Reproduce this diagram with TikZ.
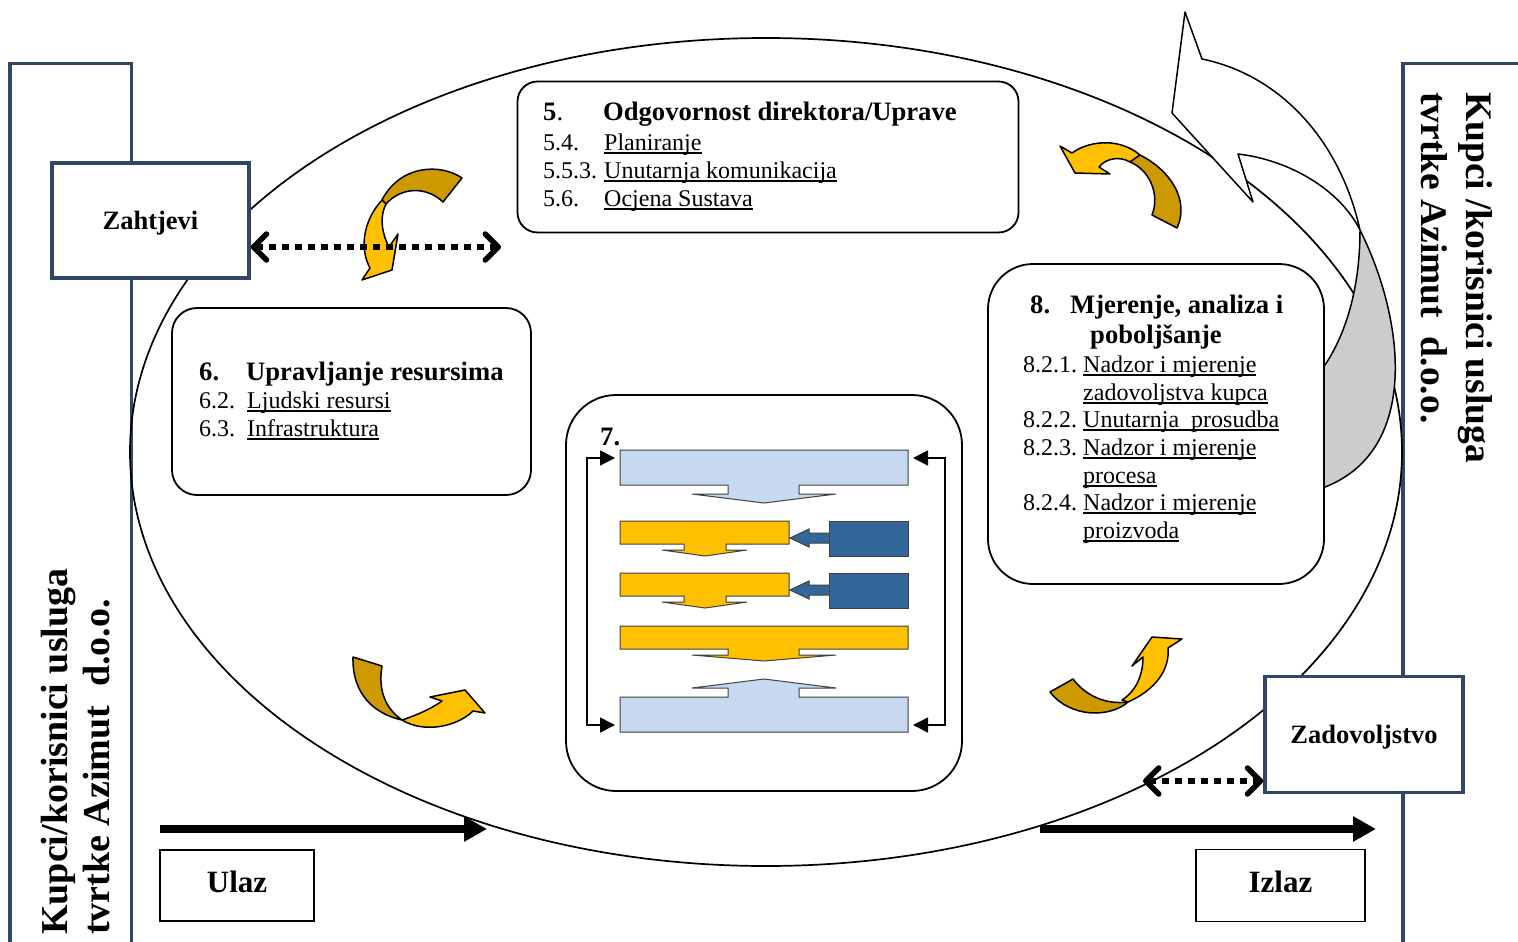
\documentclass[tikz,border=0pt]{standalone}
\usepackage{fontspec}
\setmainfont{Liberation Serif}
\usetikzlibrary{arrows.meta,positioning}
\definecolor{navy}{RGB}{47,70,102}
\definecolor{paleblue}{RGB}{198,217,241}
\definecolor{amber}{RGB}{255,192,0}
\definecolor{steel}{RGB}{52,102,153}
\definecolor{ochre}{RGB}{204,153,0}
\definecolor{backgray}{RGB}{204,204,204}
\newcommand{\undl}[1]{\sbox0{#1}\rlap{\rule[-3.5pt]{\wd0}{1.3pt}}\usebox0}
\tikzset{
  strip/.style={draw=navy, line width=3.5pt},
  sidebox/.style={draw=navy, line width=3.5pt, fill=white, text depth=0pt, font=\fontsize{26.5}{30}\selectfont\bfseries},
  iobox/.style={draw, line width=1.6pt, fill=white, text height=21pt, text depth=8pt, font=\fontsize{31}{36}\selectfont\bfseries},
  procbox/.style={draw, line width=1.8pt, fill=white},
  txt/.style={anchor=base west, inner sep=0pt, font=\fontsize{24}{28}\selectfont},
  ttl/.style={txt, font=\fontsize{26.6}{30}\selectfont\bfseries},
  bandback/.style={draw, line width=1.5pt, line join=round, fill=ochre},
  bandfront/.style={draw, line width=1.5pt, line join=round, fill=amber},
  stage/.style={draw=black!75, line width=1pt},
  dotlink/.style={line width=5.5pt, dash pattern=on 7pt off 6pt,
    {Straight Barb[length=13pt,width=26pt,round]}-{Straight Barb[length=13pt,width=26pt,round]}},
  flow/.style={line width=8pt, -{Triangle[length=23pt,width=24pt]}},
  fback/.style={line width=1.6pt, {Triangle[length=15pt,width=15pt]}-{Triangle[length=15pt,width=15pt]}, shorten <=5pt, shorten >=5pt},
}

\begin{document}
\begin{tikzpicture}[x=1pt, y=-1pt]
\useasboundingbox (0,0) rectangle (1518,942);

\draw[strip] (10,960) -- (10,63.5) -- (131.5,63.5) -- (131.5,960);
\draw[strip] (1403,960) -- (1403,63.5) -- (1540,63.5);
\draw[line width=1.7pt] (766,452) ellipse [x radius=636, y radius=414];

\draw[line width=1.5pt, line join=round, fill=white] (1172,113) -- (1185,12) -- (1202,59)
  .. controls (1280,75) and (1340,140) .. (1360,230)
  .. controls (1340,190) and (1290,160) .. (1238,154) -- (1253,202) -- cycle;
\draw[line width=1.5pt, line join=round, fill=backgray] (1360,230)
  .. controls (1405,320) and (1420,450) .. (1325,487) -- (1318,487) -- (1318,365) -- (1325,365)
  .. controls (1345,335) and (1360,290) .. (1360,230) -- cycle;

\node[procbox, rounded corners=20pt, minimum width=501pt, minimum height=151pt] (resp) at (768,157) {};
\node[procbox, rounded corners=25pt, minimum width=359pt, minimum height=187pt] (res) at (351.5,401.5) {};
\node[procbox, rounded corners=45pt, minimum width=336pt, minimum height=320pt] (meas) at (1156,424) {};
\node[procbox, rounded corners=50pt, minimum width=396pt, minimum height=396pt] (real) at (764,593) {};

\node[ttl] (t5a) at (543,121) {5{\mdseries.}};
\node[ttl] (t5b) at (603,121) {Odgovornost direktora/Uprave};
\foreach \n/\s/\y [count=\i] in {5.4./Planiranje/150, 5.5.3./Unutarnja komunikacija/178, 5.6./Ocjena Sustava/206}{
  \node[txt] (n5-\i) at (543,\y) {\n};
  \node[txt] (s5-\i) at (604,\y) {\undl{\s}};
}

\node[ttl] (t6a) at (199,380) {6.};
\node[ttl] (t6b) at (246,380) {Upravljanje resursima};
\foreach \n/\s/\y [count=\i] in {6.2./Ljudski resursi/408, 6.3./Infrastruktura/436}{
  \node[txt] (n6-\i) at (199,\y) {\n};
  \node[txt] (s6-\i) at (247,\y) {\undl{\s}};
}

\node[ttl] (t8a) at (1030,313) {8.};
\node[ttl] (t8b) at (1070,313) {Mjerenje, analiza i};
\node[ttl, anchor=base] (t8c) at (1156,343) {poboljšanje};
\foreach \n/\y [count=\i] in {8.2.1./372, 8.2.2./427, 8.2.3./455, 8.2.4./510}
  \node[txt] (n8-\i) at (1023,\y) {\n};
\foreach \s/\y [count=\i] in {Nadzor i mjerenje/372, zadovoljstva kupca/400, Unutarnja\ \ prosudba/427,
    Nadzor i mjerenje/455, procesa/483, Nadzor i mjerenje/510, proizvoda/538}
  \node[txt] (s8-\i) at (1083,\y) {\undl{\s}};

\node[ttl] (t7) at (600,445) {7.};
\draw[stage, fill=paleblue] (620,450) -- (908,450) -- (908,485) -- (799,485) -- (799,494) -- (836,494)
  -- (764,503) -- (692,494) -- (728,494) -- (728,485) -- (620,485) -- cycle;
\foreach \dy in {0,52}{
  \draw[stage, fill=amber, shift={(0,\dy)}] (620,521) -- (789,521) -- (789,544) -- (726,544) -- (726,550)
    -- (747,550) -- (705,556) -- (662,550) -- (684,550) -- (684,544) -- (620,544) -- cycle;
  \draw[stage, fill=steel, shift={(0,\dy)}] (829,533) -- (809,533) -- (809,529) -- (790,538) -- (809,547)
    -- (809,543) -- (829,543);
  \draw[stage, fill=steel, shift={(0,\dy)}] (829,521) rectangle (908,556);
}
\draw[stage, fill=amber] (620,626) -- (908,626) -- (908,649) -- (799,649) -- (799,655) -- (836,655)
  -- (764,661) -- (692,655) -- (728,655) -- (728,649) -- (620,649) -- cycle;
\draw[stage, fill=paleblue] (620,697) -- (728,697) -- (728,688) -- (692,688) -- (764,679) -- (836,688)
  -- (799,688) -- (799,697) -- (908,697) -- (908,732) -- (620,732) -- cycle;
\coordinate (topL) at (620,458);
\coordinate (botL) at (620,725);
\coordinate (topR) at (908,458);
\coordinate (botR) at (908,725);
\draw[fback] (topL) -- ++(-33,0) |- (botL);
\draw[fback] (topR) -- ++(37,0) |- (botR);

\node[sidebox, minimum width=197pt, minimum height=115pt] (zahtjevi) at (150.5,220.5) {Zahtjevi};
\node[sidebox, minimum width=198pt, minimum height=116pt] (zadovoljstvo) at (1364,734.5) {Zadovoljstvo};

\draw[bandback] (462,178) .. controls (440,163) and (400,165) .. (382,200) -- (386,204)
  .. controls (400,188) and (425,185) .. (443,202) -- cycle;
\draw[bandfront] (382,200) .. controls (362,222) and (360,250) .. (370,268) -- (362,280) -- (392,270)
  -- (398,234) -- (389,247) .. controls (381,232) and (380,215) .. (386,204) -- cycle;

\draw[bandfront] (1072,153) .. controls (1090,140) and (1120,138) .. (1140,155) -- (1130,162)
  .. controls (1120,156) and (1106,158) .. (1099,167) -- (1110,174) -- (1075,173) -- (1060,146) -- cycle;
\draw[bandback] (1140,155) .. controls (1170,170) and (1190,200) .. (1177,228) -- (1152,215)
  .. controls (1160,195) and (1150,170) .. (1130,162) -- cycle;

\draw[bandback] (353,657) -- (382,666) .. controls (378,690) and (385,708) .. (402,720)
  .. controls (375,714) and (352,695) .. (353,657) -- cycle;
\draw[bandfront] (402,720) .. controls (420,714) and (432,708) .. (442,701) -- (430,697) -- (465,690)
  -- (485,713) -- (473,711) .. controls (458,726) and (425,734) .. (402,720) -- cycle;

\draw[bandback] (1050,692) -- (1073,679) .. controls (1085,695) and (1105,705) .. (1128,702)
  .. controls (1110,718) and (1070,718) .. (1050,692) -- cycle;
\draw[bandfront] (1128,702) .. controls (1155,690) and (1170,670) .. (1168,648) -- (1182,639) -- (1152,637)
  -- (1132,666) -- (1143,657) .. controls (1143,680) and (1132,694) .. (1122,700) -- cycle;

\coordinate (zq) at (501,247);
\draw[dotlink] (zahtjevi.east |- zq) -- (zq);
\coordinate (zd) at (1143,781);
\draw[dotlink] (zd) -- (zadovoljstvo.west |- zd);

\coordinate (inA) at (160,829);
\coordinate (inB) at (487,829);
\draw[flow] (inA) -- (inB);
\coordinate (outA) at (1040,829);
\coordinate (outB) at (1376,829);
\draw[flow] (outA) -- (outB);

\node[iobox, minimum width=154pt, minimum height=71pt] (ulaz) at (237,885.5) {Ulaz};
\node[iobox, minimum width=169pt, minimum height=72pt] (izlaz) at (1280.5,885.5) {Izlaz};

\node[rotate=90, anchor=west, align=left, inner sep=0pt, font=\fontsize{38}{42}\selectfont\bfseries]
  (kupciL) at (76,935) {Kupci/korisnici usluga\\tvrtke Azimut\ \ d.o.o.};
\node[rotate=-90, anchor=west, align=left, inner sep=0pt, font=\fontsize{37.5}{45}\selectfont\bfseries]
  (kupciR) at (1457,92) {Kupci /korisnici usluga\\tvrtke Azimut\ \ d.o.o.};
\end{tikzpicture}
\end{document}
